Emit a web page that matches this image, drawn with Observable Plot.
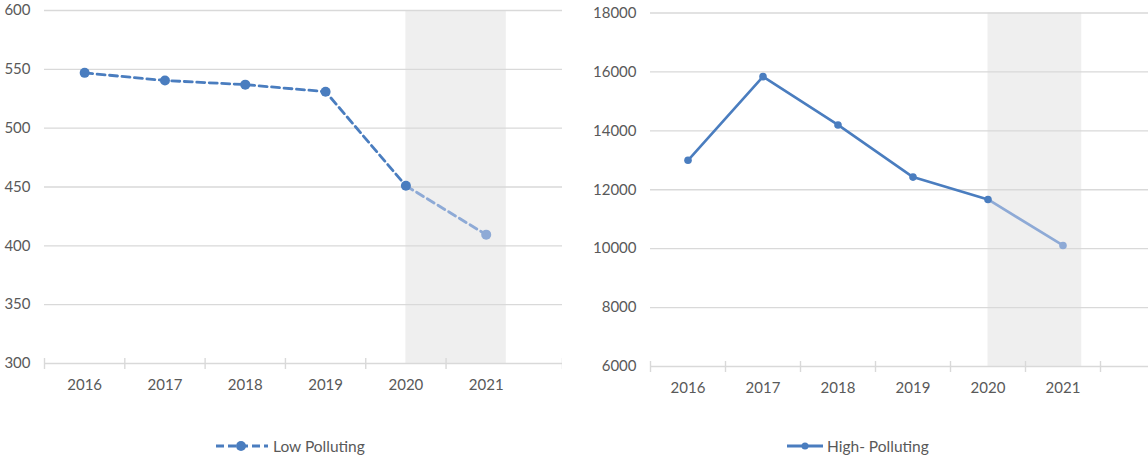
<!DOCTYPE html>
<html>
<head>
<meta charset="utf-8">
<script src="https://cdn.jsdelivr.net/npm/d3@7"></script>
<script src="https://cdn.jsdelivr.net/npm/@observablehq/plot@0.6"></script>
<style>
  html, body { margin: 0; padding: 0; background: #fff; }
  #wrap { position: relative; width: 1148px; height: 459px; overflow: hidden; font-family: Lato, "Open Sans", sans-serif; }
  .panel { position: absolute; top: 0; }
  .legend { position: absolute; display: flex; align-items: center; font-size: 15.5px; color: #595959; font-family: Lato, sans-serif; }
  .legend svg { display: block; margin-right: 3px; }
</style>
</head>
<body>
<div id="wrap">
  <div id="left" class="panel" style="left:0px"></div>
  <div id="right" class="panel" style="left:580px"></div>
  <div class="legend" style="left:214px; top:436px">
    <svg width="56" height="20"><line x1="2" y1="10" x2="54" y2="10" stroke="#4a7dbf" stroke-width="3" stroke-dasharray="8,4"></line><circle cx="27" cy="10" r="5" fill="#4a7dbf"></circle></svg>
    <span>Low Polluting</span>
  </div>
  <div class="legend" style="left:786px; top:436px">
    <svg width="38" height="20"><line x1="1" y1="10" x2="37" y2="10" stroke="#4a7dbf" stroke-width="3"></line><circle cx="19" cy="10" r="3.5" fill="#4a7dbf"></circle></svg>
    <span>High- Polluting</span>
  </div>
</div>
<script>
// ---- data ----
const years = [2016, 2017, 2018, 2019, 2020, 2021];
const lowPolluting = [547, 540.5, 537, 531, 451, 409.5];
const highPolluting = [13000, 15840, 14200, 12430, 11670, 10110];
const lowTicks = [300, 350, 400, 450, 500, 550, 600];
const highTicks = [6000, 8000, 10000, 12000, 14000, 16000, 18000];
const shadedFrom = 2020;     // shaded (estimate) period start
const shadedTo = 2021.25;    // shaded period end

const mainColor = "#4a7dbf";
const lightColor = "#8eaad6";
const gridColor = "#d9d9d9";
const textColor = "#595959";

function panel({values, ticks, width, marginLeft, marginTop, marginBottom, xEnd, boundaryTicks, dashed, r, sw}) {
  const rows = years.map((y, i) => ({year: y, value: values[i]}));
  const solid = rows.slice(0, 5);
  const proj = rows.slice(4);
  const yMin = ticks[0], yMax = ticks[ticks.length - 1];
  const lineOpts = {x: "year", y: "value", strokeWidth: sw, strokeDasharray: dashed ? "8,4.5" : null};
  return Plot.plot({
    width, height: 400,
    marginLeft, marginRight: 0, marginTop, marginBottom,
    style: {fontFamily: "Lato, 'Open Sans', sans-serif", fontSize: "15px", color: textColor, background: "white"},
    x: {domain: [2015.5, xEnd], axis: null, label: null},
    y: {domain: [yMin, yMax], axis: null, label: null},
    marks: [
      Plot.rect([{x1: shadedFrom, x2: shadedTo}], {x1: "x1", x2: "x2", y1: yMin, y2: yMax, fill: "#efefef"}),
      Plot.ruleY(ticks, {stroke: gridColor, strokeWidth: 1.4}),
      Plot.axisX(boundaryTicks, {tickSize: 11, dy: -5, tickFormat: () => "", label: null, stroke: gridColor, strokeWidth: 1.4}),
      Plot.axisX(years, {tickSize: 0, tickPadding: 16, tickFormat: d => String(d), label: null, fill: textColor, fontSize: 15}),
      Plot.axisY(ticks, {tickSize: 0, tickPadding: 14, tickFormat: d => String(d), label: null, fill: textColor, fontSize: 15}),
      Plot.line(solid, {...lineOpts, stroke: mainColor}),
      Plot.line(proj, {...lineOpts, stroke: lightColor}),
      Plot.dot(solid, {x: "year", y: "value", r, fill: mainColor}),
      Plot.dot(proj.slice(1), {x: "year", y: "value", r, fill: lightColor})
    ]
  });
}

document.getElementById("left").append(panel({
  values: lowPolluting, ticks: lowTicks, width: 562, marginLeft: 44, marginTop: 10, marginBottom: 37,
  xEnd: 2021.95, boundaryTicks: [2015.5, 2016.5, 2017.5, 2018.5, 2019.5, 2020.5, 2021.95], dashed: true, r: 5, sw: 2.8
}));
document.getElementById("right").append(panel({
  values: highPolluting, ticks: highTicks, width: 568, marginLeft: 70, marginTop: 12.5, marginBottom: 34,
  xEnd: 2022.14, boundaryTicks: [2015.5, 2016.5, 2017.5, 2018.5, 2019.5, 2020.5, 2021.5], dashed: false, r: 3.8, sw: 2.6
}));
</script>
</body>
</html>
